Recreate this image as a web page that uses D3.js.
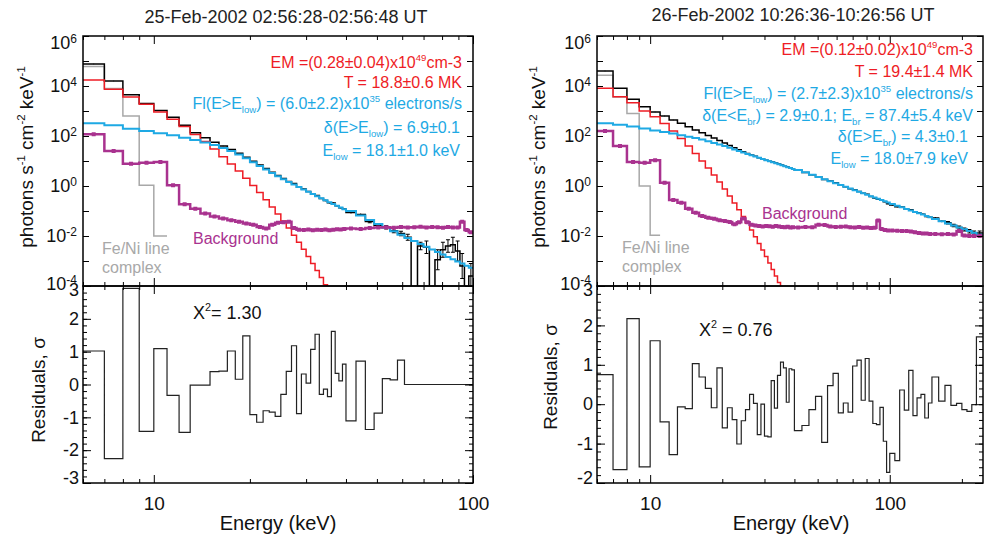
<!DOCTYPE html>
<html>
<head>
<meta charset="utf-8">
<script src="https://cdn.jsdelivr.net/npm/d3@7"></script>
<style>
  body { margin: 0; background: #fff; }
  svg { font-family: "Liberation Sans", Arial, sans-serif; }
</style>
</head>
<body>
<div id="vis"></div>
<script>
// bin edges (keV)
var leftEdges = [6,7,8,9,10,11,12,13,14,15,16,17,18,19,20,21,22,23,24,25,26,27,28,29,30,31,32,33,34,35,36,37,38,39,40,
  43,46,49,52,55,58,61,64,67,70,73,76,79,82,85,88,91,94,97,100];
var rightEdges = [6,7,8,9,10,11,12,13,14,15,16,17,18,19,20,21,22,23,24,25,26,27,28,29,30,31,32,33,34,35,36,37,38,39,40,
  43,46,49,52,55,58,61,64,67,70,73,76,79,82,85,88,91,94,97,100,
  105,110,115,120,125,130,135,140,145,150,160,170,180,190,200,210,220,230,245];

// 25-Feb-2002: log10 photons s-1 cm-2 keV-1 per bin
var leftData = [4.88, 4.2, 3.65, 3.3, 3.02, 2.75, 2.43, 2.13, 1.93, 1.75,
  1.6, 1.46, 1.31, 1.15, 0.99, 0.84, 0.7, 0.55, 0.42, 0.3,
  0.18, 0.1, -0.05, -0.12, -0.22, -0.33, -0.38, -0.5, -0.58, -0.67,
  -0.68, -0.79, -0.87, -0.92,
  -1.06, -1.14, -1.42, -1.57, -1.65, -1.79, -1.9, -2.05, -4.5, -2.4,
  -2.45, -4.5, -2.95, -2.55, -2.4, -2.35, -2.6, -3.2, -4.5, -3.6];
var leftErr = [0.01,0.01,0.01,0.01,0.01,0.01,0.01,0.01,0.01,0.01,0.01,0.01,0.01,0.01,0.01,0.01,0.01,0.01,0.01,0.01,
  0.02,0.02,0.02,0.02,0.02,0.02,0.02,0.02,0.03,0.03,0.03,0.03,0.03,0.03,
  0.04,0.04,0.05,0.06,0.07,0.08,0.09,0.12,0,0.15,0.25,0,0.4,0.3,0.25,0.3,0.4,0.5,0,0.5];
var leftThermal = [4.24, 3.87, 3.56, 3.27, 2.96, 2.67, 2.38, 2.06, 1.78, 1.48,
  1.17, 0.88, 0.6, 0.31, 0.02, -0.26, -0.55, -0.84, -1.12, -1.4,
  -1.68, -1.97, -2.25, -2.53, -2.82, -3.1, -3.38, -3.66, -3.95, -4.23];
var leftNonthermal = [2.51, 2.43, 2.29, 2.2, 2.11, 2.03, 1.93, 1.84, 1.74, 1.64,
  1.52, 1.4, 1.26, 1.11, 0.95, 0.8, 0.66, 0.52, 0.39, 0.27,
  0.16, 0.06, -0.04, -0.14, -0.23, -0.32, -0.41, -0.49, -0.57, -0.65,
  -0.72, -0.79, -0.86, -0.93,
  -1.0, -1.18, -1.36, -1.52, -1.67, -1.81, -1.95, -2.08, -2.2, -2.32,
  -2.43, -2.54, -2.64, -2.74, -2.84, -2.93, -3.02, -3.1, -3.19, -3.27];
var leftLine = [4.78, 3.9, 2.8, 0.03, -2.0];
var leftBkg = [2.07, 1.4, 0.89, 0.93, 0.96, 0.03, -0.73, -0.91, -1.1, -1.22,
  -1.3, -1.37, -1.43, -1.5, -1.55, -1.64, -1.7, -1.55, -1.47, -1.45,
  -1.43, -1.68, -1.75, -1.76, -1.74, -1.77, -1.75, -1.76, -1.74, -1.77,
  -1.75, -1.73, -1.74, -1.72,
  -1.7, -1.72, -1.68, -1.66, -1.65, -1.67, -1.64, -1.66, -1.65, -1.63,
  -1.66, -1.64, -1.65, -1.67, -1.64, -1.66, -1.66, -1.43, -1.76, -1.85];
var leftResid = [1.02, -2.26, 2.93, -1.43, 1.09, -0.33, -1.46, -0.02, -0.02, 0.39,
  0.41, 1.02, 0.16, 1.48, -0.92, -1.15, -0.8, -0.84, -0.97, -0.3,
  0.4, 1.18, -0.89, 0.32, 0.04, 1.07, 1.53, -0.3, -0.14, -0.37,
  1.62, 0.34, 0.11, 0.62,
  -1.11, 0.71, -1.37, -0.87, 0.18, 0.14, 0.74, 0, 0, 0,
  0, 0, 0, 0, 0, 0, 0, 0, 0, 0];

// 26-Feb-2002
var rightData = [4.6, 3.91, 3.47, 3.17, 2.96, 2.8, 2.64, 2.51, 2.37, 2.24,
  2.13, 2.02, 1.92, 1.82, 1.72, 1.62, 1.53, 1.45, 1.37, 1.3,
  1.24, 1.19, 1.13, 1.09, 1.03, 0.99, 0.96, 0.92, 0.88, 0.84,
  0.79, 0.76, 0.73, 0.69,
  0.63, 0.54, 0.45, 0.37, 0.26, 0.2, 0.13, 0.03, -0.03, -0.11,
  -0.15, -0.22, -0.29, -0.33, -0.42, -0.48, -0.53, -0.56, -0.63, -0.71,
  -0.76, -0.83, -0.84, -0.93, -0.95, -1.05, -1.08, -1.13, -1.22, -1.25,
  -1.28, -1.41, -1.47, -1.58, -1.66, -1.74, -1.81, -1.87,
  -1.88];
var rightErr = [0.01,0.01,0.01,0.01,0.01,0.01,0.01,0.01,0.01,0.01,0.01,0.01,0.01,0.01,0.01,0.01,0.01,
  0.01,0.01,0.01,0.01,0.01,0.01,0.01,0.01,0.01,0.01,0.01,0.01,0.01,0.01,0.01,0.01,0.01,
  0.02,0.02,0.02,0.02,0.02,0.02,0.02,0.02,0.02,0.02,0.02,0.02,0.02,0.02,0.02,0.02,0.02,0.02,0.02,0.02,
  0.03,0.03,0.03,0.03,0.03,0.03,0.03,0.03,0.03,0.03,
  0.04,0.04,0.05,0.05,0.06,0.06,0.07,0.07,
  0.08];
var rightThermal = [3.91, 3.57, 3.33, 3.0, 2.77, 2.5, 2.2, 1.9, 1.6, 1.3,
  1.0, 0.72, 0.44, 0.16, -0.12, -0.4, -0.68, -0.95, -1.22, -1.49,
  -1.76, -2.03, -2.3, -2.56, -2.82, -3.08, -3.34, -3.6, -3.86, -4.12];
var rightNonthermal = [2.51, 2.45, 2.38, 2.3, 2.22, 2.16, 2.1, 2.03, 1.97, 1.92,
  1.86, 1.79, 1.72, 1.66, 1.6, 1.53, 1.46, 1.4, 1.34, 1.28,
  1.23, 1.18, 1.13, 1.08, 1.03, 0.99, 0.95, 0.91, 0.87, 0.83,
  0.79, 0.75, 0.72, 0.68,
  0.64, 0.55, 0.45, 0.36, 0.27, 0.19, 0.11, 0.04, -0.03, -0.1,
  -0.17, -0.23, -0.29, -0.35, -0.41, -0.46, -0.51, -0.56, -0.61, -0.66,
  -0.72, -0.79, -0.85, -0.92, -0.98, -1.04, -1.09, -1.14, -1.2, -1.25,
  -1.32, -1.41, -1.5, -1.58, -1.66, -1.73, -1.8, -1.87,
  -1.95];
var rightLine = [4.43, 3.56, 2.9, 0.0, -1.97];
var rightBkg = [2.2, 1.6, 0.96, 0.93, 1.03, 0.13, -0.56, -0.67, -0.91, -1.07,
  -1.2, -1.27, -1.31, -1.37, -1.4, -1.44, -1.53, -1.45, -1.3, -1.45,
  -1.55, -1.58, -1.6, -1.62, -1.6, -1.61, -1.63, -1.6, -1.62, -1.64,
  -1.65, -1.63, -1.66, -1.65,
  -1.66, -1.64, -1.65, -1.55, -1.56, -1.62, -1.64, -1.63, -1.62, -1.65,
  -1.66, -1.64, -1.67, -1.66, -1.68, -1.67, -1.38, -1.72, -1.76, -1.78,
  -1.78, -1.79, -1.8, -1.8, -1.82, -1.85, -1.88, -1.9, -1.9, -1.92,
  -1.92, -1.93, -1.92, -1.94, -1.8, -1.98, -2.0, -2.0,
  -2.0];
var rightResid = [0.75, -1.66, 2.17, -1.59, 1.61, -0.45, -1.28, -0.07, -0.11, 1.03,
  0.69, 0.4, -0.09, 0.92, -0.6, -0.09, -0.39, -1.01, -0.42, -0.14,
  0.25, 0.02, -0.77, 0, -0.81, -0.83, 0.6, -0.1, 0.73, 1.07,
  0.92, 0.05, 0.9, 0.87,
  -0.67, -0.54, -0.14, 0.2, -0.97, 0.47, 0.78, -0.22, 0.03, -0.2,
  0.97, 1.12, 0.1, 1.16, 0.08, -0.49, -0.52, -0.08, -0.94, -1.73,
  -1.25, -1.43, 0.36, -0.15, 0.86, -0.29, 0.16, 0.25, -0.35, 0.03,
  0.69, 0.08, 0.48, -0.03, 0.02, -0.14, -0.18, -0.01,
  1.71];

var decades = [1e-4, 1e-3, 1e-2, 1e-1, 1, 1e1, 1e2, 1e3, 1e4, 1e5, 1e6];
var decadeLabels = [1e-4, 1e-2, 1, 1e2, 1e4, 1e6];

var red = "#ee1c25", blue = "#1ea9e4", gray = "#a8a8a8", magenta = "#a9328f";

var width = 984, height = 539;
var topBox = [36, 286], resBox = [286, 483];

var svg = d3.select("div#vis").append("svg")
    .attr("width", width)
    .attr("height", height);

var panels = [
  { id: "L", x0: 83, x1: 473, xDomain: [6, 100], edges: leftEdges,
    data: leftData, err: leftErr, thermal: leftThermal, nonth: leftNonthermal, line: leftLine,
    bkg: leftBkg, resid: leftResid, rDomain: [-3, 3],
    major: [10, 100], minor: [6,7,8,9,20,30,40,50,60,70,80,90],
    title: "25-Feb-2002 02:56:28-02:56:48 UT", titleX: 286, titleY: 23,
    yLabelX: 33, resLabelX: 45, resLabelY: 390, xLabelX: 278,
    notes: [
      [462, 68, red, ["EM =(0.28±0.04)x10", {sup: "49"}, "cm-3"]],
      [462, 88, red, ["T = 18.8±0.6 MK"]],
      [462, 109, blue, ["Fl(E>E", {sub: "low"}, ") = (6.0±2.2)x10", {sup: "35"}, " electrons/s"]],
      [460, 133, blue, ["δ(E>E", {sub: "low"}, ") = 6.9±0.1"]],
      [460, 156, blue, ["E", {sub: "low"}, " = 18.1±1.0 keV"]]
    ],
    chi: ["X", {sup: "2"}, "= 1.30"], chiX: 193, chiY: 319,
    bkgX: 193, bkgY: 244, feX: 102, feY: 254 },
  { id: "R", x0: 597, x1: 983, xDomain: [6, 245], edges: rightEdges,
    data: rightData, err: rightErr, thermal: rightThermal, nonth: rightNonthermal, line: rightLine,
    bkg: rightBkg, resid: rightResid, rDomain: [-2, 3],
    major: [10, 100], minor: [6,7,8,9,20,30,40,50,60,70,80,90,200],
    title: "26-Feb-2002 10:26:36-10:26:56 UT", titleX: 793, titleY: 21,
    yLabelX: 545, resLabelX: 557, resLabelY: 377, xLabelX: 791,
    notes: [
      [973, 55, red, ["EM =(0.12±0.02)x10", {sup: "49"}, "cm-3"]],
      [973, 77, red, ["T = 19.4±1.4 MK"]],
      [973, 99, blue, ["Fl(E>E", {sub: "low"}, ") = (2.7±2.3)x10", {sup: "35"}, " electrons/s"]],
      [973, 121, blue, ["δ(E<E", {sub: "br"}, ") = 2.9±0.1; E", {sub: "br"}, " = 87.4±5.4 keV"]],
      [968, 142, blue, ["δ(E>E", {sub: "br"}, ") = 4.3±0.1"]],
      [968, 164, blue, ["E", {sub: "low"}, " = 18.0±7.9 keV"]]
    ],
    chi: ["X", {sup: "2"}, " = 0.76"], chiX: 699, chiY: 336,
    bkgX: 762, bkgY: 219, feX: 622, feY: 253 }
];

// text with super/subscripts
function rich(g, x, y, anchor, color, size, parts) {
  var t = g.append("text")
      .attr("x", x).attr("y", y)
      .attr("text-anchor", anchor)
      .attr("fill", color)
      .attr("font-size", size + "px");
  var shift = 0;
  parts.forEach(function(p) {
    var s = typeof p === "string" ? {t: p} : p;
    var target = s.sup ? -0.42 * size : (s.sub ? 0.25 * size : 0);
    var ts = t.append("tspan").attr("dy", target - shift).text(s.sup || s.sub || s.t);
    if (s.sup || s.sub) ts.attr("font-size", (size * 0.6) + "px");
    shift = target;
  });
  return t;
}

function tickAxis(g, axisFn, scale, vals, len, tx, ty) {
  g.append("g")
      .attr("transform", "translate(" + tx + "," + ty + ")")
      .call(axisFn(scale).tickValues(vals).tickSize(-len).tickSizeOuter(0).tickFormat(""))
      .call(function(a) {
        a.select(".domain").remove();
        a.selectAll("line").attr("stroke", "#000").attr("stroke-width", 1);
      });
}

function steps(edges, logs, lin) {
  var pts = logs.map(function(v, i) { return [edges[i], lin ? v : Math.pow(10, v)]; });
  var last = logs[logs.length - 1];
  pts.push([edges[logs.length], lin ? last : Math.pow(10, last)]);
  return pts;
}

panels.forEach(function(p) {
  var x = d3.scaleLog().domain(p.xDomain).range([p.x0, p.x1]);
  var y = d3.scaleLog().domain([1e-4, 1e6]).range([topBox[1], topBox[0]]);
  var r = d3.scaleLinear().domain(p.rDomain).range([resBox[1], resBox[0]]);

  var g = svg.append("g").attr("class", "panel-" + p.id);

  var defs = svg.append("defs");
  defs.append("clipPath").attr("id", "clipTop" + p.id).append("rect")
      .attr("x", p.x0).attr("y", topBox[0]).attr("width", p.x1 - p.x0).attr("height", topBox[1] - topBox[0]);
  defs.append("clipPath").attr("id", "clipRes" + p.id).append("rect")
      .attr("x", p.x0).attr("y", resBox[0]).attr("width", p.x1 - p.x0).attr("height", resBox[1] - resBox[0]);

  var line = d3.line()
      .x(function(d) { return x(d[0]); })
      .y(function(d) { return y(d[1]); })
      .curve(d3.curveStepAfter);
  var rline = d3.line()
      .x(function(d) { return x(d[0]); })
      .y(function(d) { return r(d[1]); })
      .curve(d3.curveStepAfter);

  var spec = g.append("g").attr("clip-path", "url(#clipTop" + p.id + ")");

  spec.append("path").attr("d", line(steps(p.edges, p.line)))
      .attr("fill", "none").attr("stroke", gray).attr("stroke-width", 1.5);

  spec.append("path").attr("d", line(steps(p.edges, p.data)))
      .attr("fill", "none").attr("stroke", "#000").attr("stroke-width", 1.5);

  // error bars on the data
  var bars = spec.append("g").attr("stroke", "#000").attr("stroke-width", 1);
  p.data.forEach(function(v, i) {
    var e = p.err[i];
    if (!e) return;
    var cx = x(Math.sqrt(p.edges[i] * p.edges[i + 1]));
    var yHi = y(Math.pow(10, v + e)), yLo = y(Math.pow(10, v - e));
    bars.append("line").attr("x1", cx).attr("x2", cx).attr("y1", yHi).attr("y2", yLo);
    if (e >= 0.05) {
      bars.append("line").attr("x1", cx - 2).attr("x2", cx + 2).attr("y1", yHi).attr("y2", yHi);
      bars.append("line").attr("x1", cx - 2).attr("x2", cx + 2).attr("y1", yLo).attr("y2", yLo);
    }
  });

  spec.append("path").attr("d", line(steps(p.edges, p.thermal)))
      .attr("fill", "none").attr("stroke", red).attr("stroke-width", 1.5);

  spec.append("path").attr("d", line(steps(p.edges, p.nonth)))
      .attr("fill", "none").attr("stroke", blue).attr("stroke-width", 2);

  spec.append("path").attr("d", line(steps(p.edges, p.bkg)))
      .attr("fill", "none").attr("stroke", magenta).attr("stroke-width", 2.5);

  spec.append("g").selectAll("rect")
      .data(p.bkg)
      .enter().append("rect")
      .attr("x", function(d, i) { return x(Math.sqrt(p.edges[i] * p.edges[i + 1])) - 2; })
      .attr("y", function(d) { return y(Math.pow(10, d)) - 2; })
      .attr("width", 4).attr("height", 4)
      .attr("fill", magenta);

  // residuals
  g.append("g").attr("clip-path", "url(#clipRes" + p.id + ")")
    .append("path").attr("d", rline(steps(p.edges, p.resid, true)))
      .attr("fill", "none").attr("stroke", "#222").attr("stroke-width", 1.2);

  // ticks, top panel
  tickAxis(g, d3.axisBottom, x, p.major, 8, 0, topBox[1]);
  tickAxis(g, d3.axisBottom, x, p.minor, 4, 0, topBox[1]);
  tickAxis(g, d3.axisTop, x, p.major, 8, 0, topBox[0]);
  tickAxis(g, d3.axisTop, x, p.minor, 4, 0, topBox[0]);
  tickAxis(g, d3.axisLeft, y, decades, 6, p.x0, 0);
  tickAxis(g, d3.axisRight, y, decades, 6, p.x1, 0);

  // ticks, residual panel
  var rMajor = d3.range(p.rDomain[0], p.rDomain[1] + 0.5, 1);
  var rMinor = d3.range(p.rDomain[0] * 5, p.rDomain[1] * 5 + 1).map(function(d) { return d / 5; });
  tickAxis(g, d3.axisTop, x, p.major, 8, 0, resBox[0]);
  tickAxis(g, d3.axisTop, x, p.minor, 4, 0, resBox[0]);
  tickAxis(g, d3.axisBottom, x, p.major, 8, 0, resBox[1]);
  tickAxis(g, d3.axisBottom, x, p.minor, 4, 0, resBox[1]);
  tickAxis(g, d3.axisLeft, r, rMajor, 8, p.x0, 0);
  tickAxis(g, d3.axisLeft, r, rMinor, 4, p.x0, 0);
  tickAxis(g, d3.axisRight, r, rMajor, 8, p.x1, 0);
  tickAxis(g, d3.axisRight, r, rMinor, 4, p.x1, 0);

  // frames
  g.append("rect").attr("x", p.x0).attr("y", topBox[0])
      .attr("width", p.x1 - p.x0).attr("height", topBox[1] - topBox[0])
      .attr("fill", "none").attr("stroke", "#000").attr("stroke-width", 1.5);
  g.append("rect").attr("x", p.x0).attr("y", resBox[0])
      .attr("width", p.x1 - p.x0).attr("height", resBox[1] - resBox[0])
      .attr("fill", "none").attr("stroke", "#000").attr("stroke-width", 1.5);

  // y labels, spectrum
  g.append("g")
      .attr("transform", "translate(" + p.x0 + ",0)")
      .call(d3.axisLeft(y).tickValues(decadeLabels).tickSize(0).tickPadding(6))
      .call(function(a) {
        a.select(".domain").remove();
        a.selectAll("text")
          .attr("font-size", "18px")
          .attr("fill", "#111")
          .attr("y", function(d) { return d === 1e6 ? 7 : (d === 1e-4 ? -2 : 0); })
          .each(function(d) {
            var t = d3.select(this).text(null);
            t.append("tspan").text("10");
            t.append("tspan").attr("dy", "-0.55em").attr("font-size", "12px")
              .text(String(Math.round(Math.log10(d))));
          });
      })
      .attr("font-family", null);

  // y labels, residuals
  g.append("g")
      .attr("transform", "translate(" + p.x0 + ",0)")
      .call(d3.axisLeft(r).tickValues(rMajor).tickSize(0).tickPadding(4)
        .tickFormat(function(d) { return String(d); }))
      .call(function(a) {
        a.select(".domain").remove();
        a.selectAll("text")
          .attr("font-size", "18px")
          .attr("fill", "#111")
          .attr("y", function(d) {
            if (d === p.rDomain[1]) return 4;
            if (d === p.rDomain[0]) return -5;
            return 0;
          });
      })
      .attr("font-family", null);

  // x labels
  g.append("g")
      .attr("transform", "translate(0," + resBox[1] + ")")
      .call(d3.axisBottom(x).tickValues(p.major).tickSize(0).tickPadding(13.5)
        .tickFormat(function(d) { return String(d); }))
      .call(function(a) {
        a.select(".domain").remove();
        a.selectAll("text").attr("font-size", "19px").attr("fill", "#111");
      })
      .attr("font-family", null);

  g.append("text")
      .attr("x", p.xLabelX).attr("y", 530)
      .attr("text-anchor", "middle")
      .attr("font-size", "20px").attr("fill", "#111")
      .text("Energy (keV)");

  rich(g.append("g").attr("transform", "translate(" + p.yLabelX + ",157) rotate(-90)"),
    0, 0, "middle", "#111", 19,
    ["photons s", {sup: "-1"}, " cm", {sup: "-2"}, " keV", {sup: "-1"}]);

  g.append("text")
      .attr("transform", "translate(" + p.resLabelX + "," + p.resLabelY + ") rotate(-90)")
      .attr("text-anchor", "middle")
      .attr("font-size", "19px").attr("fill", "#111")
      .text("Residuals, σ");

  g.append("text")
      .attr("x", p.titleX).attr("y", p.titleY)
      .attr("text-anchor", "middle")
      .attr("font-size", "18px").attr("fill", "#222")
      .text(p.title);

  p.notes.forEach(function(n) {
    rich(g, n[0], n[1], "end", n[2], 16, n[3]);
  });

  rich(g, p.chiX, p.chiY, "start", "#111", 18, p.chi);

  g.append("text")
      .attr("x", p.bkgX).attr("y", p.bkgY)
      .attr("font-size", "16px").attr("fill", magenta)
      .text("Background");

  g.append("text")
      .attr("x", p.feX).attr("y", p.feY)
      .attr("font-size", "16px").attr("fill", gray)
      .text("Fe/Ni line");
  g.append("text")
      .attr("x", p.feX).attr("y", p.feY + 19)
      .attr("font-size", "16px").attr("fill", gray)
      .text("complex");
});
</script>
</body>
</html>
